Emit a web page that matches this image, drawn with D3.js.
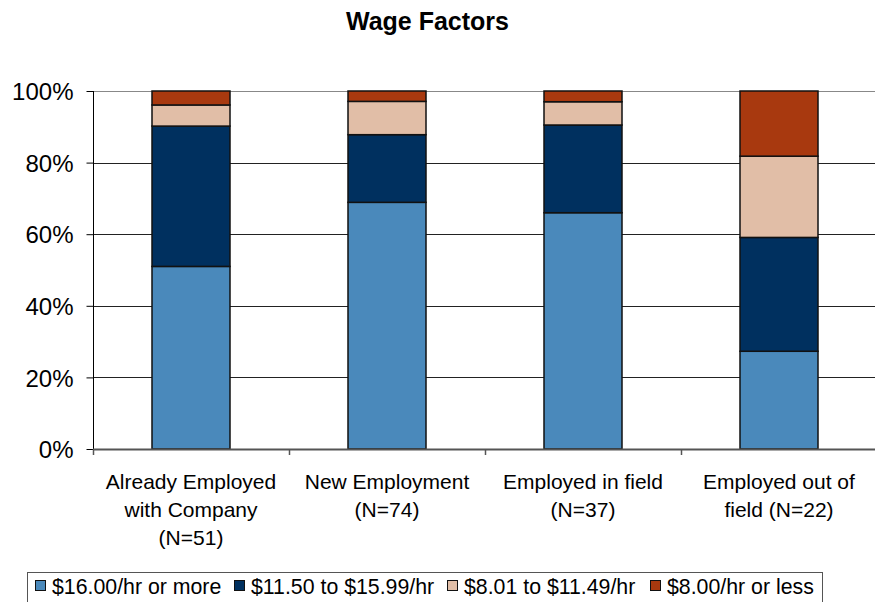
<!DOCTYPE html>
<html>
<head>
<meta charset="utf-8">
<script src="https://cdn.jsdelivr.net/npm/d3@7"></script>
<style>
  html, body { margin: 0; padding: 0; background: #fff; overflow: hidden; }
  text { font-family: "Liberation Sans", Arial, sans-serif; fill: #000; }
</style>
</head>
<body>
<svg id="chart" width="875" height="602"></svg>
<script>
// ---- data ----
const categories = ["Already Employed with Company (N=51)", "New Employment (N=74)", "Employed in field (N=37)", "Employed out of field (N=22)"];
const categoryLines = [
  ["Already Employed", "with Company", "(N=51)"],
  ["New Employment", "(N=74)"],
  ["Employed in field", "(N=37)"],
  ["Employed out of", "field (N=22)"]
];
const seriesNames = ["$16.00/hr or more", "$11.50 to $15.99/hr", "$8.01 to $11.49/hr", "$8.00/hr or less"];
const wage16plus   = [51.0, 68.9, 66.0, 27.3];
const wage1150     = [39.2, 18.9, 24.5, 31.8];
const wage801      = [5.9, 9.3, 6.5, 22.7];
const wage800less  = [3.9, 2.9, 3.0, 18.2];
const yTicks = [0, 20, 40, 60, 80, 100];
const colors = ["#4a89bb", "#00305f", "#e1bea7", "#a8390f"];

// ---- layout ----
const svg = d3.select("#chart");
const pLeft = 93, pRight = 877, pTop = 91, pBottom = 449;

const x = d3.scaleBand().domain(categories).range([pLeft, pRight]).paddingInner(0).paddingOuter(0);
const y = d3.scaleLinear().domain([0, 100]).range([pBottom, pTop]);
const barW = 78;

// title
svg.append("text").attr("x", 427.5).attr("y", 30).attr("text-anchor", "middle")
  .style("font-size", "25px").style("font-weight", "bold").text("Wage Factors");

// gridlines
svg.append("g").selectAll("line").data(yTicks.filter(d => d > 0)).join("line")
  .attr("x1", pLeft).attr("x2", pRight)
  .attr("y1", d => Math.round(y(d)) + 0.5).attr("y2", d => Math.round(y(d)) + 0.5)
  .attr("stroke", d => d === 100 ? "#888" : "#222").attr("stroke-width", 1);

// stacked data
const rows = categories.map((c, i) => ({cat: c, s0: wage16plus[i], s1: wage1150[i], s2: wage801[i], s3: wage800less[i]}));
const stack = d3.stack().keys(["s0", "s1", "s2", "s3"]);
const stacked = stack(rows);

svg.append("g").selectAll("g").data(stacked).join("g")
  .attr("fill", (d, i) => colors[i])
  .selectAll("rect").data(d => d).join("rect")
  .attr("x", d => x(d.data.cat) + (x.bandwidth() - barW) / 2)
  .attr("width", barW)
  .attr("y", d => y(Math.min(100, d[1])))
  .attr("height", d => y(d[0]) - y(Math.min(100, d[1])))
  .attr("stroke", "#111").attr("stroke-width", 1.5);

// y axis
const yAxis = d3.axisLeft(y).tickValues(yTicks).tickFormat(d => d + "%").tickSize(7).tickPadding(13);
const gy = svg.append("g").attr("transform", `translate(${pLeft + 0.5},0)`).call(yAxis);
gy.select(".domain").attr("stroke", "#000").attr("d", `M0,${pTop}V${pBottom}`);
gy.selectAll(".tick line").attr("stroke", "#000");
gy.selectAll(".tick text").style("font-size", "24px").style("font-family", '"Liberation Sans", Arial, sans-serif').attr("fill", "#000").attr("dy", "0.36em");

// x axis line and ticks
svg.append("line").attr("x1", pLeft).attr("x2", pRight).attr("y1", pBottom + 0.5).attr("y2", pBottom + 0.5)
  .attr("stroke", "#555").attr("stroke-width", 2);
const boundaries = categories.map(c => x(c)).concat([x(categories[categories.length - 1]) + x.bandwidth()]);
svg.append("g").selectAll("line").data(boundaries).join("line")
  .attr("x1", d => Math.round(d) + 0.5).attr("x2", d => Math.round(d) + 0.5)
  .attr("y1", pBottom).attr("y2", pBottom + 6).attr("stroke", "#555").attr("stroke-width", 1.5);

// category labels
const gl = svg.append("g");
categories.forEach((c, i) => {
  const t = gl.append("text").attr("text-anchor", "middle").style("font-size", "21px");
  categoryLines[i].forEach((ln, j) => {
    t.append("tspan").attr("x", x(c) + x.bandwidth() / 2).attr("y", 489 + j * 28).text(ln);
  });
});

// legend
const legendSwatchX = [35, 234, 447, 650];
const lg = svg.append("g");
lg.append("rect").attr("x", 27.5).attr("y", 572.5).attr("width", 795).attr("height", 40)
  .attr("fill", "#fff").attr("stroke", "#555").attr("stroke-width", 1);
seriesNames.forEach((n, i) => {
  const lx = legendSwatchX[i];
  lg.append("rect").attr("x", lx + 0.5).attr("y", 580.5).attr("width", 10).attr("height", 10)
    .attr("fill", colors[i]).attr("stroke", "#111").attr("stroke-width", 1);
  lg.append("text").attr("x", lx + 17).attr("y", 594).style("font-size", "21.3px").text(n);
});
</script>
</body>
</html>
